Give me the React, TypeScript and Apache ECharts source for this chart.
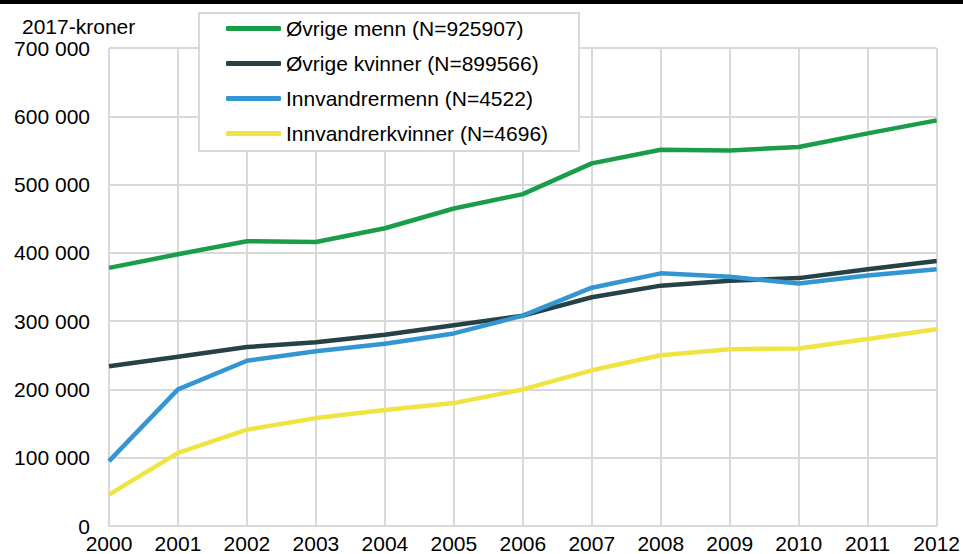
import React, { useEffect, useRef } from "react";
import * as echarts from "echarts";

const years = ["2000", "2001", "2002", "2003", "2004", "2005", "2006", "2007", "2008", "2009", "2010", "2011", "2012"];
const ovrigeMenn = [378000, 398000, 417000, 416000, 436000, 465000, 486000, 531000, 551000, 550000, 555000, 575000, 594000];
const ovrigeKvinner = [234000, 248000, 262000, 269000, 280000, 294000, 308000, 335000, 352000, 359000, 363000, 376000, 388000];
const innvandrerMenn = [95000, 200000, 242000, 256000, 267000, 282000, 308000, 349000, 370000, 365000, 355000, 367000, 376000];
const innvandrerKvinner = [46000, 107000, 141000, 158000, 170000, 180000, 200000, 228000, 250000, 259000, 260000, 274000, 288000];
const seriesNames = [
  "Øvrige menn (N=925907)",
  "Øvrige kvinner (N=899566)",
  "Innvandrermenn (N=4522)",
  "Innvandrerkvinner (N=4696)",
];
const colors = ["#1a9d49", "#274247", "#3396d2", "#f0e442"];
const yUnit = "2017-kroner";

const FONT = "'Liberation Sans', Arial, sans-serif";
const FS = 21;

export default function App() {
  const ref = useRef<HTMLDivElement>(null);
  useEffect(() => {
    document.body.style.margin = "0";
    const chart = echarts.init(ref.current!, null, { renderer: "svg" });
    const data = [ovrigeMenn, ovrigeKvinner, innvandrerMenn, innvandrerKvinner];
    chart.setOption({
      animation: false,
      backgroundColor: "#ffffff",
      textStyle: { fontFamily: FONT },
      grid: { left: 109, right: 25, top: 48, bottom: 28, containLabel: false },
      xAxis: {
        type: "category",
        data: years,
        boundaryGap: false,
        axisLine: { show: true, lineStyle: { color: "#d9d9d9", width: 2 } },
        axisTick: { show: false },
        axisLabel: { color: "#000", fontSize: FS, fontFamily: FONT, lineHeight: 15, margin: 10, interval: 0 },
        splitLine: { show: true, lineStyle: { color: "#d9d9d9", width: 2 } },
      },
      yAxis: {
        type: "value",
        min: 0,
        max: 700000,
        interval: 100000,
        axisLine: { show: false },
        axisTick: { show: false },
        axisLabel: {
          color: "#000",
          fontSize: FS,
          fontFamily: FONT,
          lineHeight: 15,
          margin: 19,
          formatter: (v: number) => String(v).replace(/\B(?=(\d{3})+(?!\d))/g, " "),
        },
        splitLine: { show: true, lineStyle: { color: "#d9d9d9", width: 2 } },
      },
      legend: {
        show: true,
        orient: "vertical",
        left: 226,
        top: 18,
        itemWidth: 55,
        itemHeight: 5,
        itemGap: 14,
        icon: "roundRect",
        padding: 0,
        z: 10,
        textStyle: { color: "#000", fontSize: FS, fontFamily: FONT },
        data: seriesNames,
      },
      graphic: [
        {
          type: "rect",
          z: 5,
          shape: { x: 0, y: 0, width: 963, height: 4 },
          style: { fill: "#000" },
        },
        {
          type: "rect",
          z: 5,
          shape: { x: 199, y: 13, width: 380, height: 138 },
          style: { fill: "#fff", stroke: "#d9d9d9", lineWidth: 2 },
        },
        {
          type: "text",
          z: 5,
          x: 22,
          y: 26,
          style: {
            text: yUnit,
            fill: "#000",
            font: `${FS}px ${FONT}`,
            verticalAlign: "middle",
            align: "left",
          },
        },
      ],
      series: seriesNames.map((name, i) => ({
        name,
        type: "line",
        data: data[i],
        showSymbol: false,
        symbol: "none",
        smooth: false,
        color: colors[i],
        lineStyle: { color: colors[i], width: 4.5 },
        itemStyle: { color: colors[i] },
        z: 2,
      })),
    });
    return () => chart.dispose();
  }, []);
  return <div ref={ref} style={{ width: 963, height: 554 }} />;
}
